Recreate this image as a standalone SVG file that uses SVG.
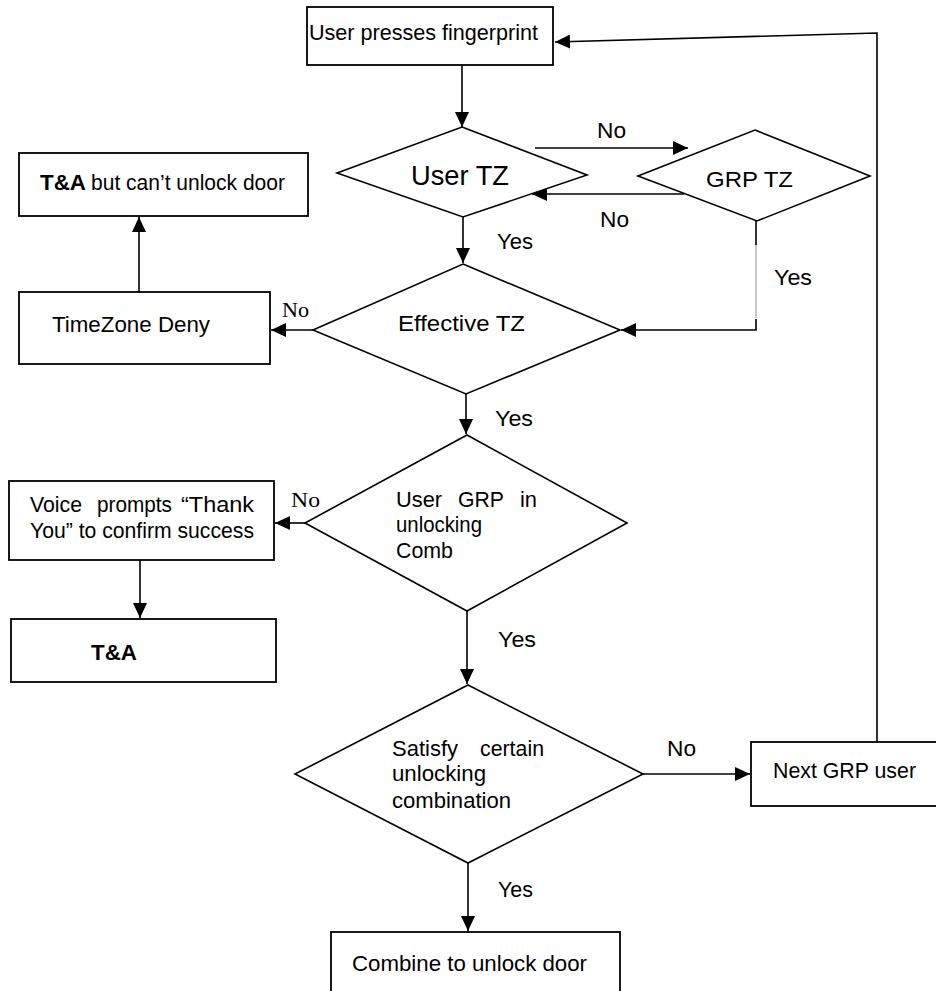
<svg xmlns="http://www.w3.org/2000/svg" width="936" height="991" viewBox="0 0 936 991">
<defs>
<marker id="ah" markerUnits="userSpaceOnUse" markerWidth="16" markerHeight="14" refX="15" refY="7" orient="auto">
<path d="M0,0 L15,7 L0,14 z" fill="#000"/>
</marker>
</defs>
<style>
.box{fill:#fff;stroke:#000;stroke-width:1.8}
.dia{fill:#fff;stroke:#000;stroke-width:1.6}
.ln{fill:none;stroke:#000;stroke-width:1.6}
.ar{fill:none;stroke:#000;stroke-width:1.6;marker-end:url(#ah)}
.t{font-family:"Liberation Sans",Arial,sans-serif;font-size:22px;fill:#000}
.b{font-weight:bold}
.s{font-family:"Liberation Serif","Times New Roman",serif;font-size:21px;fill:#000}
</style>
<rect width="936" height="991" fill="#fff"/>

<g id="connectors">
<line class="ar" x1="462" y1="65" x2="462" y2="127"/>
<line class="ar" x1="535" y1="148" x2="688" y2="148"/>
<line class="ar" x1="684" y1="194" x2="532" y2="194"/>
<line class="ar" x1="463" y1="217" x2="463" y2="263"/>
<line class="ln" x1="756" y1="221" x2="756" y2="245"/>
<line x1="756" y1="245" x2="756" y2="318" stroke="#bbb" stroke-width="1.6"/>
<polyline class="ar" points="756,319 756,330 621,330"/>
<line class="ar" x1="313" y1="330" x2="271" y2="330"/>
<line class="ar" x1="139" y1="292" x2="139" y2="217"/>
<line class="ar" x1="466" y1="394" x2="466" y2="434"/>
<line class="ar" x1="305" y1="523" x2="275" y2="523"/>
<line class="ar" x1="140" y1="560" x2="140" y2="618"/>
<line class="ar" x1="467" y1="611" x2="467" y2="684"/>
<line class="ar" x1="643" y1="774" x2="750" y2="774"/>
<line class="ar" x1="468" y1="863" x2="468" y2="931"/>
<polyline class="ar" points="877,742 877,33 555,42"/>
<text class="t" x="597" y="138" textLength="29" lengthAdjust="spacingAndGlyphs">No</text>
<text class="t" x="600" y="227" textLength="29" lengthAdjust="spacingAndGlyphs">No</text>
<text class="t" x="497" y="249" textLength="36" lengthAdjust="spacingAndGlyphs">Yes</text>
<text class="t" x="774" y="285" textLength="38" lengthAdjust="spacingAndGlyphs">Yes</text>
<text class="s" x="282" y="317" textLength="27" lengthAdjust="spacingAndGlyphs">No</text>
<text class="t" x="495" y="426" textLength="38" lengthAdjust="spacingAndGlyphs">Yes</text>
<text class="s" x="291" y="507" textLength="29" lengthAdjust="spacingAndGlyphs">No</text>
<text class="t" x="498" y="647" textLength="38" lengthAdjust="spacingAndGlyphs">Yes</text>
<text class="t" x="667" y="756" textLength="29" lengthAdjust="spacingAndGlyphs">No</text>
<text class="t" x="498" y="897" textLength="35" lengthAdjust="spacingAndGlyphs">Yes</text>
</g>

<g id="start">
<rect class="box" x="307" y="7" width="246" height="58"/>
<text class="t" x="309" y="40" textLength="229" lengthAdjust="spacingAndGlyphs">User presses fingerprint</text>
</g>

<g id="user-tz">
<polygon class="dia" points="462,127 587,175 463,217 337,173"/>
<text class="t" x="411" y="185" style="font-size:28px" textLength="98" lengthAdjust="spacingAndGlyphs">User TZ</text>
</g>

<g id="grp-tz">
<polygon class="dia" points="755,130 870,176 757,221 638,176"/>
<text class="t" x="706" y="187" textLength="87" lengthAdjust="spacingAndGlyphs">GRP TZ</text>
</g>

<g id="ta-no-unlock">
<rect class="box" x="19" y="153" width="289" height="63"/>
<text class="t b" x="40" y="190" textLength="46" lengthAdjust="spacingAndGlyphs">T&amp;A</text>
<text class="t" x="91" y="190" textLength="194" lengthAdjust="spacingAndGlyphs">but can’t unlock door</text>
</g>

<g id="timezone-deny">
<rect class="box" x="19" y="292" width="251" height="72"/>
<text class="t" x="52" y="332" textLength="158" lengthAdjust="spacingAndGlyphs">TimeZone Deny</text>
</g>

<g id="effective-tz">
<polygon class="dia" points="463,264 620,330 466,394 313,330"/>
<text class="t" x="398" y="331" textLength="127" lengthAdjust="spacingAndGlyphs">Effective TZ</text>
</g>

<g id="voice">
<rect class="box" x="9" y="481" width="265" height="79"/>
<text class="t" x="30" y="512" textLength="52" lengthAdjust="spacingAndGlyphs">Voice</text>
<text class="t" x="97" y="512" textLength="75" lengthAdjust="spacingAndGlyphs">prompts</text>
<text class="t" x="181" y="512" textLength="73" lengthAdjust="spacingAndGlyphs">“Thank</text>
<text class="t" x="30" y="538" textLength="224" lengthAdjust="spacingAndGlyphs">You” to confirm success</text>
</g>

<g id="ta">
<rect class="box" x="11" y="619" width="265" height="63"/>
<text class="t b" x="91" y="660" textLength="46" lengthAdjust="spacingAndGlyphs">T&amp;A</text>
</g>

<g id="user-grp">
<polygon class="dia" points="467,435 627,523 467,611 305,523"/>
<text class="t" x="396" y="507" textLength="46" lengthAdjust="spacingAndGlyphs">User</text>
<text class="t" x="458" y="507" textLength="46" lengthAdjust="spacingAndGlyphs">GRP</text>
<text class="t" x="520" y="507" textLength="17" lengthAdjust="spacingAndGlyphs">in</text>
<text class="t" x="396" y="532" textLength="86" lengthAdjust="spacingAndGlyphs">unlocking</text>
<text class="t" x="396" y="558" textLength="57" lengthAdjust="spacingAndGlyphs">Comb</text>
</g>

<g id="satisfy">
<polygon class="dia" points="468,685 643,774 468,863 295,774"/>
<text class="t" x="392" y="756" textLength="66" lengthAdjust="spacingAndGlyphs">Satisfy</text>
<text class="t" x="480" y="756" textLength="64" lengthAdjust="spacingAndGlyphs">certain</text>
<text class="t" x="392" y="781" textLength="94" lengthAdjust="spacingAndGlyphs">unlocking</text>
<text class="t" x="392" y="808" textLength="119" lengthAdjust="spacingAndGlyphs">combination</text>
</g>

<g id="next-grp-user">
<rect class="box" x="751" y="742" width="195" height="64"/>
<text class="t" x="773" y="778" textLength="143" lengthAdjust="spacingAndGlyphs">Next GRP user</text>
</g>

<g id="combine">
<rect class="box" x="331" y="932" width="289" height="70"/>
<text class="t" x="352" y="971" textLength="235" lengthAdjust="spacingAndGlyphs">Combine to unlock door</text>
</g>
</svg>
